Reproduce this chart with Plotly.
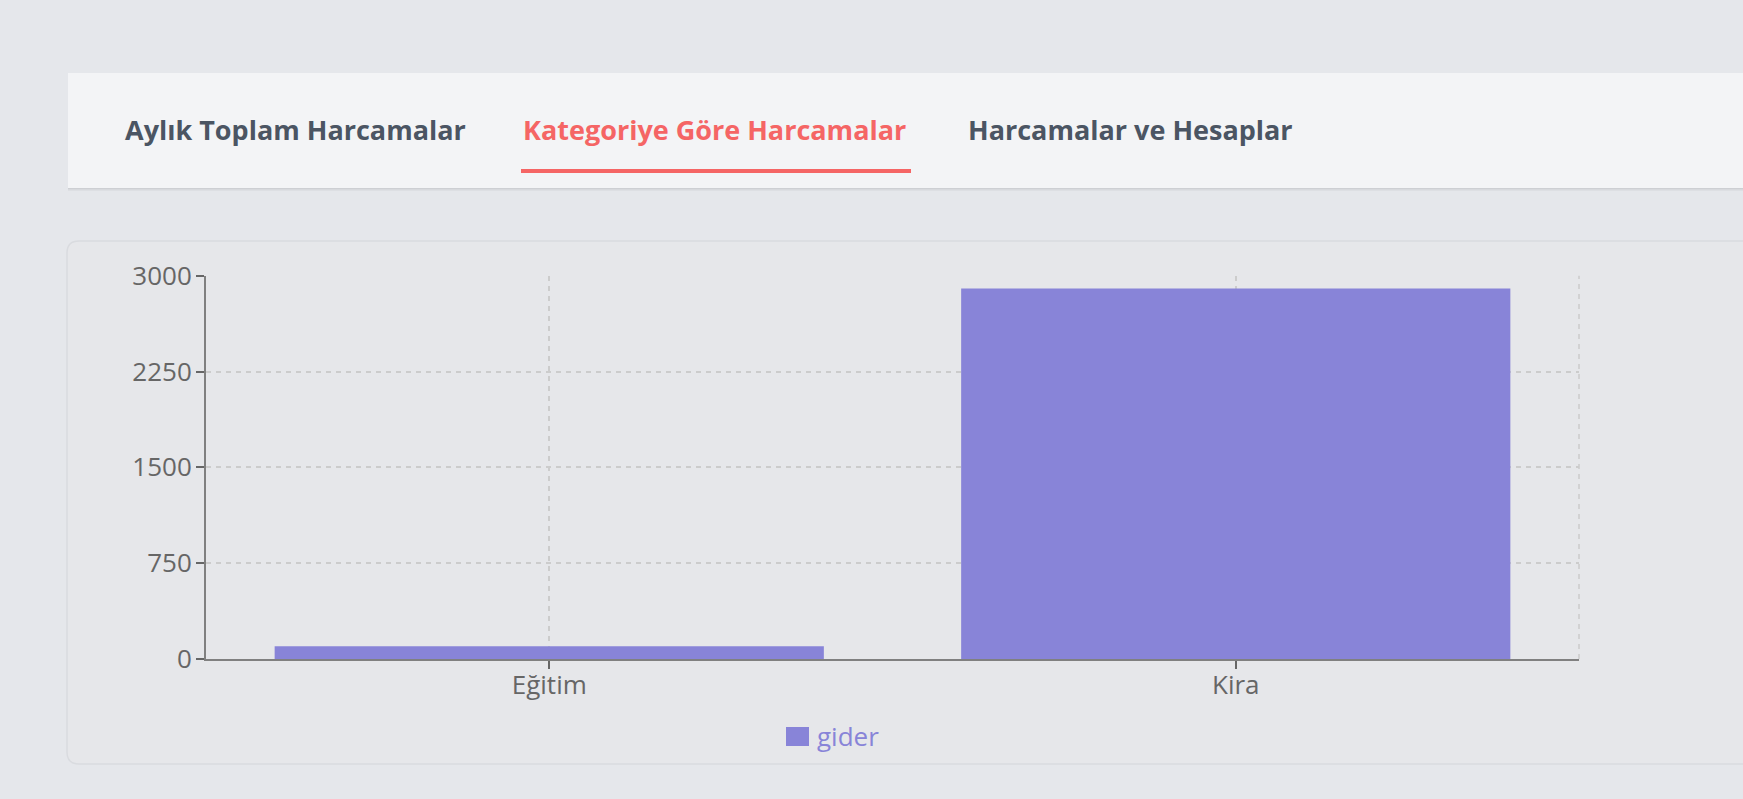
import plotly.graph_objects as go

categories = ["Eğitim", "Kira"]
gider = [100, 2900]
y_ticks = [0, 750, 1500, 2250, 3000]
tabs = ["Aylık Toplam Harcamalar", "Kategoriye Göre Harcamalar", "Harcamalar ve Hesaplar"]
series_name = "gider"

W, H = 1743, 799
def X(px): return px / W
def Y(py): return 1 - py / H

BAR = "#8884d8"
GRAY = "#666666"
AXIS = "#808080"
PAGE = "#e5e7eb"

fig = go.Figure()
fig.add_trace(go.Bar(x=categories, y=gider, marker=dict(color=BAR, line=dict(width=0)),
                     showlegend=False, hoverinfo="x+y", name=series_name))

shapes = []
# tab bar shadow
for i, op in enumerate([0.10, 0.06, 0.03]):
    shapes.append(dict(type="rect", xref="paper", yref="paper", x0=X(68), x1=1.0,
                       y0=Y(188 + i + 1), y1=Y(188 + i), fillcolor="black", opacity=op,
                       line=dict(width=0), layer="below"))
shapes.append(dict(type="rect", xref="paper", yref="paper", x0=X(68), x1=1.0,
                   y0=Y(188), y1=Y(73), fillcolor="#f3f4f6", line=dict(width=0), layer="below"))
# active tab underline
shapes.append(dict(type="rect", xref="paper", yref="paper", x0=X(521), x1=X(911),
                   y0=Y(173), y1=Y(169), fillcolor="#f56565", line=dict(width=0), layer="below"))
# card
l, t, r, b, rad = 67, 241, 1760, 764, 12
rx, ry = rad / W, rad / H
path = (f"M {X(l)+rx},{Y(t)} L {X(r)},{Y(t)} L {X(r)},{Y(b)} L {X(l)+rx},{Y(b)} "
        f"Q {X(l)},{Y(b)} {X(l)},{Y(b)+ry} L {X(l)},{Y(t)-ry} Q {X(l)},{Y(t)} {X(l)+rx},{Y(t)} Z")
shapes.append(dict(type="path", xref="paper", yref="paper", path=path,
                   fillcolor="#e6e7ea", line=dict(color="#d9dbdf", width=1.5), layer="below"))
# right edge dashed grid line
shapes.append(dict(type="line", xref="x domain", yref="y domain", x0=1, x1=1, y0=0, y1=1,
                   line=dict(color="#cccccc", width=1.5, dash="5px,5px"), layer="below"))
# legend swatch
shapes.append(dict(type="rect", xref="paper", yref="paper", x0=X(786), x1=X(809),
                   y0=Y(746), y1=Y(727), fillcolor=BAR, line=dict(width=0)))

annotations = []
tab_x = [123, 521, 966]
for name, xp, active in zip(tabs, tab_x, [False, True, False]):
    annotations.append(dict(text=f"<b>{name}</b>", x=X(xp), y=Y(130), xref="paper", yref="paper",
                            xanchor="left", yanchor="middle", showarrow=False,
                            font=dict(family="Open Sans", size=27,
                                      color="#f56565" if active else "#4b5563")))
# legend label
annotations.append(dict(text=series_name, x=X(815), y=Y(736), xref="paper", yref="paper",
                        xanchor="left", yanchor="middle", showarrow=False,
                        font=dict(family="Open Sans", size=26, color=BAR)))

fig.update_layout(
    width=W, height=H, autosize=False,
    margin=dict(l=0, r=0, t=0, b=0, pad=0, autoexpand=False),
    paper_bgcolor=PAGE, plot_bgcolor="rgba(0,0,0,0)",
    shapes=shapes, annotations=annotations,
    bargap=0.2,
    font=dict(family="Open Sans", size=26, color=GRAY),
    showlegend=False,
    xaxis=dict(domain=[X(206), X(1579)], type="category", categoryorder="array",
               categoryarray=categories, range=[-0.5, 1.5],
               showline=True, linecolor=AXIS, linewidth=2,
               ticks="outside", ticklen=8, tickwidth=1.5, tickcolor=GRAY,
               showgrid=True, gridcolor="#cccccc", gridwidth=1.5, griddash="5px,5px",
               tickfont=dict(size=26, color=GRAY), zeroline=False, fixedrange=True,
               automargin=False, ticklabelstandoff=-6),
    yaxis=dict(domain=[Y(659), Y(275.7)], range=[0, 3000], tickvals=y_ticks,
               ticktext=[str(v) for v in y_ticks],
               showline=True, linecolor=AXIS, linewidth=2,
               ticks="outside", ticklen=8, tickwidth=1.5, tickcolor=GRAY,
               showgrid=True, gridcolor="#cccccc", gridwidth=1.5, griddash="5px,5px",
               tickfont=dict(size=26, color=GRAY), zeroline=False, fixedrange=True,
               ticklabelstandoff=-1, automargin=False),
)

fig.write_html("out.html", config={"displayModeBar": False},
               post_script="document.body.style.margin='0';document.body.style.background='#e5e7eb';document.body.style.overflow='hidden';")
